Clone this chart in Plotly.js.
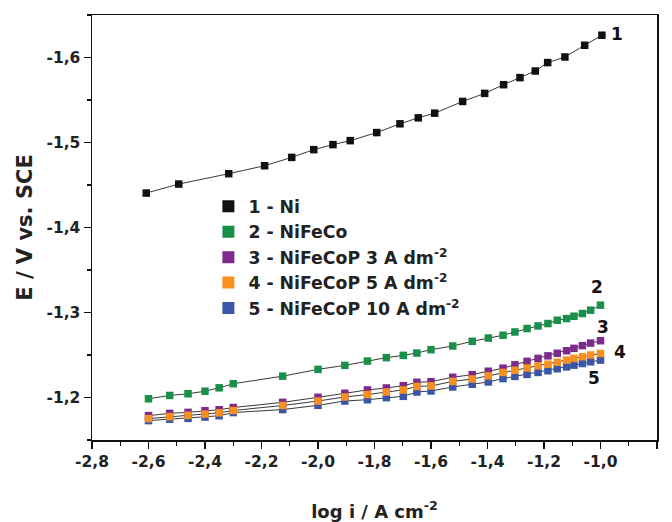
<!DOCTYPE html>
<html>
<head>
<meta charset="utf-8">
<script src="https://cdn.plot.ly/plotly-3.0.1.min.js"></script>
<style>html,body{margin:0;padding:0;background:#fff;}#chart{width:672px;height:522px;}</style>
</head>
<body>
<div id="chart"></div>
<script>
// Series 1 - Ni
const xNi = [-2.608, -2.493, -2.316, -2.189, -2.093, -2.015, -1.947, -1.886, -1.792, -1.710, -1.645, -1.587, -1.488, -1.410, -1.343, -1.285, -1.231, -1.187, -1.126, -1.056, -0.995];
const eNi = [-1.4405, -1.4511, -1.4633, -1.4727, -1.4825, -1.4916, -1.4975, -1.5022, -1.5117, -1.5220, -1.5290, -1.5345, -1.5483, -1.5578, -1.5680, -1.5763, -1.5841, -1.5940, -1.6006, -1.6144, -1.6262];

// Series 2..5 share these log i values
const xAlloy = [-2.600, -2.525, -2.460, -2.400, -2.350, -2.300, -2.125, -2.000, -1.905, -1.825, -1.758, -1.698, -1.650, -1.600, -1.523, -1.454, -1.397, -1.345, -1.303, -1.260, -1.221, -1.186, -1.153, -1.120, -1.094, -1.064, -1.035, -1.000];
const eNiFeCo = [-1.1985, -1.2024, -1.2044, -1.2074, -1.2114, -1.2162, -1.2251, -1.2331, -1.2378, -1.2429, -1.2469, -1.2496, -1.2523, -1.2563, -1.2606, -1.2661, -1.2700, -1.2732, -1.2771, -1.2811, -1.2842, -1.2870, -1.2909, -1.2929, -1.2956, -1.2988, -1.3027, -1.3086];
const eP3 = [-1.1787, -1.1813, -1.1825, -1.1844, -1.1856, -1.1882, -1.1943, -1.2002, -1.2050, -1.2089, -1.2112, -1.2139, -1.2179, -1.2186, -1.2238, -1.2269, -1.2309, -1.2345, -1.2385, -1.2425, -1.2460, -1.2490, -1.2520, -1.2550, -1.2578, -1.2610, -1.2640, -1.2668];
const eP5 = [-1.1752, -1.1775, -1.1790, -1.1805, -1.1820, -1.1847, -1.1906, -1.1959, -1.2006, -1.2035, -1.2065, -1.2089, -1.2130, -1.2136, -1.2189, -1.2218, -1.2254, -1.2295, -1.2320, -1.2348, -1.2372, -1.2392, -1.2415, -1.2440, -1.2460, -1.2480, -1.2500, -1.2518];
const eP10 = [-1.1728, -1.1745, -1.1755, -1.1770, -1.1785, -1.1823, -1.1858, -1.1908, -1.1959, -1.1974, -1.1998, -1.2014, -1.2065, -1.2077, -1.2124, -1.2156, -1.2183, -1.2222, -1.2248, -1.2272, -1.2295, -1.2315, -1.2338, -1.2360, -1.2380, -1.2400, -1.2420, -1.2440];

const seriesNames = ["1 - Ni", "2 - NiFeCo", "3 - NiFeCoP 3 A dm<sup>-2</sup>", "4 - NiFeCoP 5 A dm<sup>-2</sup>", "5 - NiFeCoP 10 A dm<sup>-2</sup>"];
const seriesColors = ["#111111", "#19904a", "#7d2a8e", "#f7901e", "#3b56a8"];
const curveLabels = ["1", "2", "3", "4", "5"];
const labelX = [-0.942, -1.012, -0.991, -0.931, -1.023];
const labelY = [-1.6274, -1.3299, -1.2826, -1.2531, -1.2224];

// Tick labels (hyphen minus and decimal comma, as in the reference)
const xTickVals = [-2.8, -2.6, -2.4, -2.2, -2.0, -1.8, -1.6, -1.4, -1.2, -1.0, -0.8];
const xTickText = ["-2,8", "-2,6", "-2,4", "-2,2", "-2,0", "-1,8", "-1,6", "-1,4", "-1,2", "-1,0", "-0,8"];
const yTickVals = [-1.2, -1.3, -1.4, -1.5, -1.6];
const yTickText = ["-1,2", "-1,3", "-1,4", "-1,5", "-1,6"];

const seriesX = [xNi, xAlloy, xAlloy, xAlloy, xAlloy];
const seriesY = [eNi, eNiFeCo, eP3, eP5, eP10];
const drawOrder = [0, 1, 4, 2, 3];

const FONT = "DejaVu Sans, Verdana, sans-serif";
const TXT = "#222222";
const bold = t => "<b>" + t + "</b>";
const traces = [];
drawOrder.forEach(i => {
  traces.push({
    x: seriesX[i], y: seriesY[i], type: "scatter", mode: "lines+markers",
    line: {color: "#222222", width: 0.9},
    marker: {symbol: "square", size: 7.5, color: seriesColors[i]},
    showlegend: false, hoverinfo: "skip"
  });
});
seriesNames.forEach((n, i) => {
  traces.push({
    x: [null], y: [null], type: "scatter", mode: "markers", name: n,
    marker: {symbol: "square", size: 12, color: seriesColors[i]},
    legendgroup: "g" + i, showlegend: true
  });
});

const layout = {
  width: 672, height: 522,
  margin: {l: 92, r: 15, t: 15, b: 82},
  paper_bgcolor: "#ffffff", plot_bgcolor: "#ffffff",
  font: {family: FONT, color: TXT},
  showlegend: true,
  legend: {
    x: 0.206, y: 0.592, xanchor: "left", yanchor: "top",
    bgcolor: "rgba(0,0,0,0)", borderwidth: 0,
    font: {family: FONT, size: 17.3, weight: "bold", color: TXT},
    tracegroupgap: 0, traceorder: "grouped"
  },
  xaxis: {
    range: [-2.8, -0.8], tickmode: "array", tickvals: xTickVals, ticktext: xTickText.map(bold),
    showgrid: false, zeroline: false,
    showline: true, linecolor: "#111111", linewidth: 1.5, mirror: true,
    ticks: "outside", ticklen: 7, tickwidth: 1.3, tickcolor: "#111111",
    minor: {dtick: 0.1, ticks: "outside", ticklen: 4, tickwidth: 1.2, tickcolor: "#111111", showgrid: false},
    tickfont: {family: FONT, size: 15.5, weight: "bold", color: TXT},
    title: {text: "log i / A cm<sup>-2</sup>", standoff: 38, font: {family: FONT, size: 18, weight: "bold", color: TXT}}
  },
  yaxis: {
    range: [-1.15, -1.65], tickmode: "array", tickvals: yTickVals, ticktext: yTickText.map(bold),
    showgrid: false, zeroline: false,
    showline: true, linecolor: "#111111", linewidth: 1.5, mirror: true,
    ticks: "outside", ticklen: 7, tickwidth: 1.3, tickcolor: "#111111",
    minor: {dtick: 0.05, ticks: "outside", ticklen: 4, tickwidth: 1.2, tickcolor: "#111111", showgrid: false},
    tickfont: {family: FONT, size: 15.5, weight: "bold", color: TXT},
    title: {text: "E / V vs. SCE", standoff: 8, font: {family: FONT, size: 21, weight: "bold", color: TXT}}
  },
  annotations: curveLabels.map((t, i) => ({
    x: labelX[i], y: labelY[i], xref: "x", yref: "y", text: t, showarrow: false,
    font: {family: FONT, size: 17, weight: "bold", color: "#111111"}
  }))
};

Plotly.newPlot("chart", traces, layout, {displayModeBar: false, staticPlot: true});
</script>
</body>
</html>
